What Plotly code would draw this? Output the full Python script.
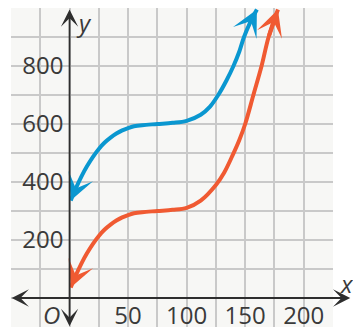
import plotly.graph_objects as go

# Curve samples (x, y)
red_x = [1, 5, 10, 15, 20, 25, 30, 35, 40, 45, 50, 55, 62, 75, 88, 100, 112, 125, 132, 139, 145, 150, 157, 164, 170, 178]
red_y = [36, 75, 118, 155, 187, 214, 236, 253, 267, 278, 286, 292, 296, 300, 304, 311, 336, 390, 432, 490, 545, 600, 700, 800, 900, 995]
blue_x = [1, 5, 10, 15, 20, 25, 30, 35, 40, 45, 50, 55, 62, 75, 88, 100, 112, 120, 127, 134, 140, 145, 149, 154, 160]
blue_y = [336, 375, 418, 455, 487, 514, 536, 553, 567, 578, 586, 592, 596, 600, 604, 611, 632, 660, 700, 750, 800, 850, 900, 948, 995]

# Axis ticks
x_ticks = [50, 100, 150, 200]
y_ticks = [200, 400, 600, 800]

BLUE = "#0a97d0"
RED = "#f05a32"
AXIS = "#2e2e2e"
GRID = "#c9c9c9"
TEXT = "#3a3a3a"
FONT = "Open Sans"

X_RANGE = [-50, 225]
Y_RANGE = [-100, 1000]

fig = go.Figure()

for xs, ys, color in ((blue_x, blue_y, BLUE), (red_x, red_y, RED)):
    fig.add_trace(go.Scatter(
        x=xs, y=ys, mode="lines",
        line=dict(color=color, width=4, shape="spline", smoothing=1.0),
        hoverinfo="skip", showlegend=False,
    ))


def curve_arrow(xs, ys, head, tail, color):
    fig.add_annotation(
        x=xs[head], y=ys[head], ax=xs[tail], ay=ys[tail],
        xref="x", yref="y", axref="x", ayref="y",
        text="", showarrow=True, arrowhead=3, arrowsize=1.1,
        arrowwidth=4, arrowcolor=color,
    )


for xs, ys, color in ((blue_x, blue_y, BLUE), (red_x, red_y, RED)):
    curve_arrow(xs, ys, 0, 1, color)
    curve_arrow(xs, ys, -1, -2, color)

# Coordinate axes with arrows at both ends
fig.add_annotation(
    x=-49.4, y=0, ax=241, ay=0, xref="x", yref="y", axref="x", ayref="y",
    text="", showarrow=True, arrowside="end+start",
    arrowhead=3, startarrowhead=3, arrowsize=1.6, startarrowsize=1.6,
    arrowwidth=1.8, arrowcolor=AXIS,
)
fig.add_annotation(
    x=0, y=-97, ax=0, ay=1000, xref="x", yref="y", axref="x", ayref="y",
    text="", showarrow=True, arrowside="end+start",
    arrowhead=3, startarrowhead=3, arrowsize=1.6, startarrowsize=1.6,
    arrowwidth=1.8, arrowcolor=AXIS,
)

label_font = dict(family=FONT, size=24, color=TEXT)
for txt, px, py in (("<i>y</i>", 0.2267, 0.955), ("<i>x</i>", 1.0435, 0.136), ("<i>O</i>", 0.1273, 0.040)):
    fig.add_annotation(x=px, y=py, xref="paper", yref="paper", text=txt,
                       showarrow=False, font=label_font,
                       xanchor="center", yanchor="middle")

fig.update_xaxes(
    range=X_RANGE, tickvals=x_ticks, ticktext=[str(v) for v in x_ticks],
    anchor="free", position=100 / 1100,
    showgrid=True, gridcolor=GRID, gridwidth=1.5,
    minor=dict(dtick=25, tick0=0, showgrid=True, gridcolor=GRID, gridwidth=1.5),
    zeroline=False, showline=False, ticks="",
    tickfont=label_font, ticklabelstandoff=1, fixedrange=True,
)
fig.update_yaxes(
    range=Y_RANGE, tickvals=y_ticks, ticktext=[str(v) for v in y_ticks],
    anchor="free", position=50 / 275,
    showgrid=True, gridcolor=GRID, gridwidth=1.5,
    minor=dict(dtick=100, tick0=0, showgrid=True, gridcolor=GRID, gridwidth=1.5),
    zeroline=False, showline=False, ticks="",
    tickfont=label_font, ticklabelstandoff=6, fixedrange=True,
)

fig.update_layout(
    width=353, height=331,
    margin=dict(l=11, r=20, t=8, b=0, pad=0),
    plot_bgcolor="#f7f7f5", paper_bgcolor="white",
    showlegend=False,
)

fig.write_html("out.html", config={"displayModeBar": False})
